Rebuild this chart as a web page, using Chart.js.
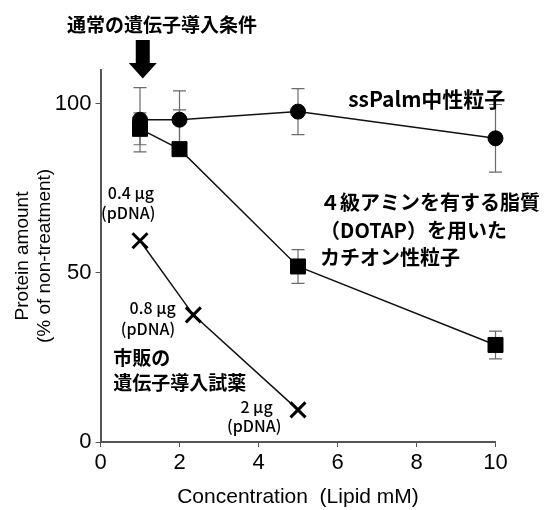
<!DOCTYPE html>
<html><head><meta charset="utf-8">
<script src="https://cdn.jsdelivr.net/npm/chart.js@4/dist/chart.umd.min.js"></script>
<style>html,body{margin:0;padding:0;background:#fff}#wrap{width:544px;height:510px}</style>
</head><body><div id="wrap"><canvas id="c" width="544" height="510"></canvas></div>
<script>
// ---- data ----
const xTicks = [0, 2, 4, 6, 8, 10];
const yTicks = [0, 50, 100];
const ssPalmX = [1, 2, 5, 10];
const ssPalmY = [95.3, 95.3, 97.7, 89.8];
const ssPalmErrUp = [9.5, 8.5, 6.8, 10];
const ssPalmErrDown = [9.5, 8.5, 6.8, 10];
const dotapX = [1, 2, 5, 10];
const dotapY = [92.6, 86.6, 51.9, 28.7];
const dotapErrUp = [4.7, 11.6, 5, 4.1];
const dotapErrDown = [4.7, 0, 5, 4.1];
const commX = [1, 2.35, 5];
const commY = [59.5, 37.6, 9.5];

// ---- annotations (positions in data units) ----
const CJK = "'Noto Sans CJK JP', 'Noto Sans', sans-serif";
const notes = [
  {text: '通常の遺伝子導入条件', x: 1.56, y: 123.4, size: 19, bold: true, align: 'center'},
  {text: 'ssPalm中性粒子', x: 6.27, y: 101.5, size: 21, bold: true, align: 'left'},
  {text: '４級アミンを有する脂質', x: 5.56, y: 70.7, size: 20, bold: true, align: 'left'},
  {text: '（DOTAP）を用いた', x: 5.56, y: 62.7, size: 20, bold: true, align: 'left'},
  {text: 'カチオン性粒子', x: 5.56, y: 54.7, size: 20, bold: true, align: 'left'},
  {text: '0.4 μg', x: 0.77, y: 73.7, size: 16, bold: false, align: 'center'},
  {text: '(pDNA)', x: 0.70, y: 67.8, size: 16, bold: false, align: 'center'},
  {text: '0.8 μg', x: 1.32, y: 39.6, size: 16, bold: false, align: 'center'},
  {text: '(pDNA)', x: 1.20, y: 33.4, size: 16, bold: false, align: 'center'},
  {text: '市販の', x: 0.32, y: 24.9, size: 19, bold: true, align: 'left'},
  {text: '遺伝子導入試薬', x: 0.32, y: 17.5, size: 19, bold: true, align: 'left'},
  {text: '2 μg', x: 3.95, y: 10.4, size: 16, bold: false, align: 'center'},
  {text: '(pDNA)', x: 3.89, y: 4.7, size: 16, bold: false, align: 'center'}
];
const arrow = {x: 1.07, yTop: 118.9, yHead: 112.1, yTip: 107.5};

const toPts = (xs, ys) => xs.map((x, i) => ({x: x, y: ys[i]}));

const errorBars = {
  id: 'errorBars',
  beforeDatasetsDraw(chart) {
    const {ctx, scales: {x, y}} = chart;
    ctx.save();
    ctx.strokeStyle = '#6a6a6a';
    ctx.lineWidth = 1.2;
    chart.data.datasets.forEach(ds => {
      if (!ds.errUp) return;
      ds.data.forEach((p, i) => {
        const px = x.getPixelForValue(p.x);
        const top = y.getPixelForValue(p.y + ds.errUp[i]);
        const bot = y.getPixelForValue(p.y - ds.errDown[i]);
        ctx.beginPath();
        ctx.moveTo(px, top); ctx.lineTo(px, bot);
        if (ds.errUp[i] > 0) { ctx.moveTo(px - 6.5, top); ctx.lineTo(px + 6.5, top); }
        if (ds.errDown[i] > 0) { ctx.moveTo(px - 6.5, bot); ctx.lineTo(px + 6.5, bot); }
        ctx.stroke();
      });
    });
    ctx.restore();
  }
};

const annot = {
  id: 'annot',
  afterDraw(chart) {
    const {ctx, scales: {x, y}} = chart;
    ctx.save();
    ctx.fillStyle = '#000';
    ctx.textBaseline = 'middle';
    notes.forEach(n => {
      ctx.font = (n.bold ? 'bold ' : '500 ') + n.size + 'px ' + CJK;
      ctx.textAlign = n.align;
      ctx.fillText(n.text, x.getPixelForValue(n.x), y.getPixelForValue(n.y));
    });
    // arrow
    const ax = x.getPixelForValue(arrow.x);
    const t = y.getPixelForValue(arrow.yTop), h = y.getPixelForValue(arrow.yHead), tip = y.getPixelForValue(arrow.yTip);
    ctx.beginPath();
    ctx.moveTo(ax - 7, t); ctx.lineTo(ax + 7, t); ctx.lineTo(ax + 7, h); ctx.lineTo(ax + 14, h);
    ctx.lineTo(ax, tip); ctx.lineTo(ax - 14, h); ctx.lineTo(ax - 7, h); ctx.closePath();
    ctx.fill();
    ctx.restore();
  }
};

new Chart(document.getElementById('c'), {
  type: 'scatter',
  data: {
    datasets: [
      {label: 'ssPalm中性粒子', data: toPts(ssPalmX, ssPalmY), showLine: true, clip: false,
       borderColor: '#111', borderWidth: 1.5, pointStyle: 'circle', pointRadius: 7.5,
       pointBackgroundColor: '#000', pointBorderColor: '#000', pointBorderWidth: 1,
       errUp: ssPalmErrUp, errDown: ssPalmErrDown},
      {label: 'カチオン性粒子', data: toPts(dotapX, dotapY), showLine: true, clip: false,
       borderColor: '#111', borderWidth: 1.5, pointStyle: 'rect', pointRadius: 10.6,
       pointBackgroundColor: '#000', pointBorderColor: '#000', pointBorderWidth: 1,
       errUp: dotapErrUp, errDown: dotapErrDown},
      {label: '市販の遺伝子導入試薬', data: toPts(commX, commY), showLine: true, clip: false,
       borderColor: '#111', borderWidth: 1.5, pointStyle: 'crossRot', pointRadius: 10.6,
       pointBackgroundColor: '#000', pointBorderColor: '#000', pointBorderWidth: 3}
    ]
  },
  options: {
    responsive: false, animation: false, events: [],
    layout: {padding: {top: 70, right: 48.5, left: 0, bottom: 0}},
    plugins: {legend: {display: false}, tooltip: {enabled: false}},
    scales: {
      x: {
        type: 'linear', min: 0, max: 10,
        afterBuildTicks: s => { s.ticks = xTicks.map(v => ({value: v})); },
        afterFit: s => { s.height = 68; },
        grid: {display: true, drawOnChartArea: false, drawTicks: true, tickLength: 5, color: '#555'},
        border: {display: true, color: '#555', width: 2},
        ticks: {color: '#000', padding: 3, font: {family: "'Liberation Sans', Arial, sans-serif", size: 22}},
        title: {display: true, text: 'Concentration  (Lipid mM)', color: '#000',
                padding: {top: 0, bottom: 0}, font: {family: "'Liberation Sans', Arial, sans-serif", size: 21}}
      },
      y: {
        type: 'linear', min: 0, max: 110,
        afterBuildTicks: s => { s.ticks = yTicks.map(v => ({value: v})); },
        afterFit: s => { s.width = 100.5; },
        grid: {display: true, drawOnChartArea: false, drawTicks: true, tickLength: 5, color: '#555'},
        border: {display: true, color: '#555', width: 2},
        ticks: {color: '#000', padding: 4, font: {family: "'Liberation Sans', Arial, sans-serif", size: 22}},
        title: {display: true, text: ['Protein amount', '(% of non-treatment)'], color: '#000',
                padding: {top: 11, bottom: 0}, font: {family: "'Liberation Sans', Arial, sans-serif", size: 19}}
      }
    }
  },
  plugins: [errorBars, annot]
});
</script></body></html>
